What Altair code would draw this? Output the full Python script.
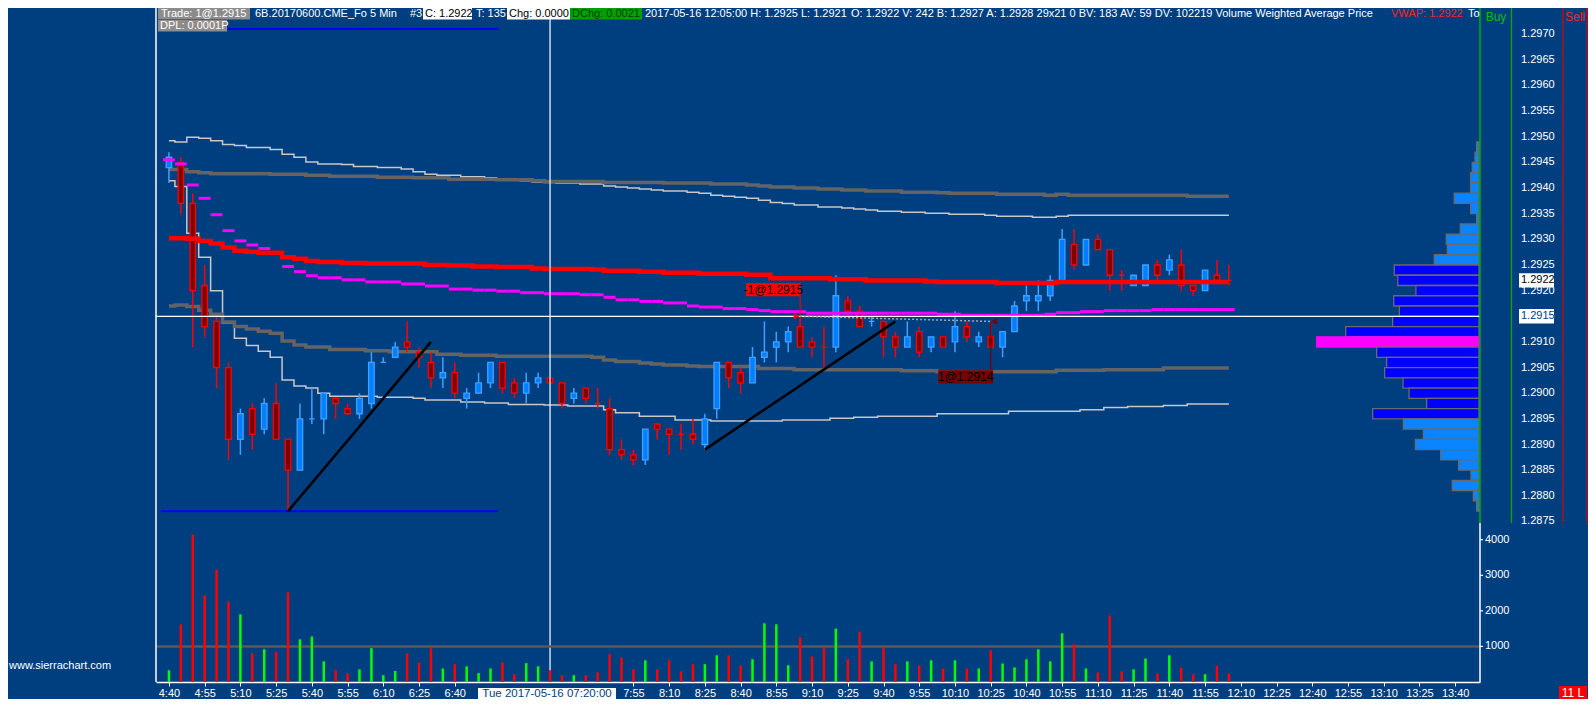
import altair as alt
import pandas as pd

# ---------------- data ----------------
OPEN = [
    1.2944, 1.2945, 1.2937, 1.2921, 1.2914, 1.2905, 1.2891, 1.2897, 1.2893, 1.2898,
    1.2891, 1.2885, 1.2895, 1.2895, 1.2899, 1.2897, 1.2896, 1.2898, 1.2906, 1.2907,
    1.2910, 1.2908, 1.2906, 1.2903, 1.2904, 1.2899, 1.2900, 1.2902, 1.2906, 1.2902,
    1.2900, 1.2902, 1.2903, 1.2902, 1.2899, 1.2901, 1.2898, 1.2897, 1.2889, 1.2888,
    1.2887, 1.2894, 1.2893, 1.2892, 1.2892, 1.2890, 1.2897, 1.2906, 1.2904, 1.2902,
    1.2907, 1.2909, 1.2910, 1.2913, 1.2910, 1.2909, 1.2909, 1.2918, 1.2916, 1.2914,
    1.2914, 1.2911, 1.2909, 1.2912, 1.2909, 1.2911, 1.2910, 1.2913, 1.2910, 1.2911,
    1.2909, 1.2912, 1.2918, 1.2918, 1.2919, 1.2922, 1.2929, 1.2925, 1.2930, 1.2928,
    1.2923, 1.2921, 1.2921, 1.2925, 1.2924, 1.2925, 1.2921, 1.2920, 1.2923, 1.2922,
]
HIGH = [
    1.2947, 1.2946, 1.2939, 1.2925, 1.2915, 1.2906, 1.2897, 1.2898, 1.2899, 1.2902,
    1.2891, 1.2898, 1.2901, 1.2900, 1.2899, 1.2898, 1.2900, 1.2908, 1.2907, 1.2910,
    1.2914, 1.2909, 1.2908, 1.2907, 1.2906, 1.2901, 1.2904, 1.2906, 1.2906, 1.2903,
    1.2904, 1.2904, 1.2903, 1.2902, 1.2901, 1.2901, 1.2901, 1.2899, 1.2891, 1.2889,
    1.2893, 1.2894, 1.2893, 1.2894, 1.2895, 1.2896, 1.2906, 1.2906, 1.2905, 1.2909,
    1.2914, 1.2912, 1.2913, 1.2915, 1.2911, 1.2913, 1.2923, 1.2919, 1.2917, 1.2915,
    1.2914, 1.2912, 1.2914, 1.2913, 1.2911, 1.2911, 1.2916, 1.2914, 1.2912, 1.2914,
    1.2912, 1.2918, 1.2921, 1.2922, 1.2923, 1.2932, 1.2932, 1.2930, 1.2931, 1.2928,
    1.2924, 1.2923, 1.2925, 1.2926, 1.2927, 1.2928, 1.2921, 1.2924, 1.2926, 1.2925,
]
LOW = [
    1.2941, 1.2935, 1.2909, 1.2911, 1.2901, 1.2887, 1.2888, 1.2889, 1.2892, 1.2891,
    1.2877, 1.2885, 1.2894, 1.2892, 1.2895, 1.2896, 1.2895, 1.2897, 1.2906, 1.2907,
    1.2908, 1.2905, 1.2901, 1.2901, 1.2899, 1.2897, 1.2900, 1.2901, 1.2900, 1.2899,
    1.2898, 1.2901, 1.2902, 1.2897, 1.2898, 1.2898, 1.2897, 1.2888, 1.2887, 1.2886,
    1.2886, 1.2891, 1.2888, 1.2889, 1.2890, 1.2889, 1.2895, 1.2901, 1.2900, 1.2902,
    1.2906, 1.2906, 1.2908, 1.2909, 1.2907, 1.2905, 1.2908, 1.2915, 1.2913, 1.2913,
    1.2907, 1.2907, 1.2909, 1.2907, 1.2908, 1.2909, 1.2908, 1.2910, 1.2909, 1.2909,
    1.2907, 1.2912, 1.2916, 1.2916, 1.2918, 1.2922, 1.2924, 1.2925, 1.2928, 1.2920,
    1.2920, 1.2921, 1.2921, 1.2922, 1.2923, 1.2920, 1.2919, 1.2920, 1.2922, 1.2921,
]
CLOSE = [
    1.2946, 1.2937, 1.2920, 1.2913, 1.2905, 1.2891, 1.2896, 1.2892, 1.2898, 1.2891,
    1.2885, 1.2895, 1.2895, 1.2900, 1.2898, 1.2896, 1.2899, 1.2906, 1.2906, 1.2909,
    1.2909, 1.2907, 1.2903, 1.2904, 1.2900, 1.2900, 1.2902, 1.2906, 1.2901, 1.2900,
    1.2902, 1.2903, 1.2902, 1.2898, 1.2900, 1.2899, 1.2898, 1.2889, 1.2888, 1.2887,
    1.2893, 1.2893, 1.2892, 1.2892, 1.2891, 1.2895, 1.2906, 1.2903, 1.2902, 1.2907,
    1.2908, 1.2910, 1.2912, 1.2909, 1.2909, 1.2909, 1.2919, 1.2916, 1.2913, 1.2914,
    1.2911, 1.2909, 1.2911, 1.2908, 1.2911, 1.2909, 1.2913, 1.2911, 1.2911, 1.2909,
    1.2912, 1.2917, 1.2919, 1.2919, 1.2922, 1.2930, 1.2925, 1.2930, 1.2928, 1.2923,
    1.2923, 1.2923, 1.2925, 1.2923, 1.2926, 1.2921, 1.2920, 1.2924, 1.2922, 1.2922,
]
DOJI_UP = [12, 18, 59]
VOLUME = [
    330, 1620, 4140, 2430, 3160, 2260, 1900, 810, 920, 840,
    2520, 1200, 1280, 580, 330, 250, 355, 950, 190, 310,
    810, 550, 950, 380, 500, 440, 250, 380, 550, 215,
    530, 440, 330, 190, 190, 190, 270, 780, 690, 355,
    610, 355, 610, 300, 500, 500, 750, 750, 470, 640,
    1650, 1620, 470, 1250, 720, 950, 1500, 640, 1420, 580,
    950, 500, 580, 470, 610, 380, 610, 380, 380, 890,
    520, 410, 640, 920, 580, 1370, 1060, 380, 270, 1870,
    300, 355, 660, 240, 750, 410, 215, 220, 450, 242,
]
VWAP = [
    1.29302, 1.29302, 1.29301, 1.29297, 1.29292, 1.29284, 1.29278, 1.29276, 1.29274, 1.29274,
    1.29265, 1.29262, 1.29258, 1.29256, 1.29256, 1.29254, 1.29254, 1.29253, 1.29253, 1.29253,
    1.29253, 1.29253, 1.29250, 1.29250, 1.29249, 1.29249, 1.29247, 1.29247, 1.29246, 1.29246,
    1.29246, 1.29243, 1.29242, 1.29242, 1.29242, 1.29242, 1.29241, 1.29239, 1.29239, 1.29239,
    1.29237, 1.29237, 1.29235, 1.29235, 1.29235, 1.29233, 1.29233, 1.29233, 1.29233, 1.29231,
    1.29231, 1.29224, 1.29224, 1.29224, 1.29224, 1.29224, 1.29222, 1.29222, 1.29222, 1.29220,
    1.29220, 1.29220, 1.29220, 1.29220, 1.29218, 1.29217, 1.29217, 1.29217, 1.29217, 1.29217,
    1.29215, 1.29215, 1.29215, 1.29215, 1.29215, 1.29217, 1.29217, 1.29217, 1.29217, 1.29217,
    1.29217, 1.29217, 1.29217, 1.29217, 1.29217, 1.29217, 1.29217, 1.29217, 1.29217, 1.29217,
]
BAND1_UP = [
    1.29436, 1.29436, 1.29432, 1.29430, 1.29428, 1.29428, 1.29428, 1.29428, 1.29428, 1.29427,
    1.29427, 1.29427, 1.29425, 1.29425, 1.29423, 1.29423, 1.29423, 1.29423, 1.29421, 1.29421,
    1.29421, 1.29420, 1.29420, 1.29420, 1.29417, 1.29417, 1.29417, 1.29417, 1.29416, 1.29416,
    1.29416, 1.29414, 1.29413, 1.29413, 1.29413, 1.29413, 1.29413, 1.29411, 1.29411, 1.29411,
    1.29411, 1.29411, 1.29410, 1.29410, 1.29410, 1.29410, 1.29408, 1.29408, 1.29408, 1.29406,
    1.29404, 1.29402, 1.29402, 1.29400, 1.29400, 1.29398, 1.29398, 1.29396, 1.29396, 1.29394,
    1.29394, 1.29394, 1.29392, 1.29392, 1.29392, 1.29391, 1.29390, 1.29390, 1.29390, 1.29390,
    1.29388, 1.29388, 1.29388, 1.29388, 1.29386, 1.29388, 1.29386, 1.29386, 1.29386, 1.29386,
    1.29386, 1.29386, 1.29386, 1.29386, 1.29386, 1.29386, 1.29384, 1.29384, 1.29384, 1.29384,
]
BAND2_UP = [
    1.29492, 1.29490, 1.29499, 1.29497, 1.29492, 1.29485, 1.29483, 1.29479, 1.29479, 1.29475,
    1.29466, 1.29460, 1.29451, 1.29447, 1.29447, 1.29446, 1.29442, 1.29442, 1.29440, 1.29440,
    1.29437, 1.29432, 1.29427, 1.29425, 1.29425, 1.29422, 1.29422, 1.29420, 1.29417, 1.29416,
    1.29414, 1.29412, 1.29411, 1.29410, 1.29410, 1.29408, 1.29408, 1.29404, 1.29402, 1.29400,
    1.29398, 1.29396, 1.29394, 1.29394, 1.29392, 1.29390, 1.29386, 1.29384, 1.29382, 1.29380,
    1.29376, 1.29372, 1.29370, 1.29367, 1.29367, 1.29363, 1.29363, 1.29361, 1.29359, 1.29357,
    1.29355, 1.29355, 1.29353, 1.29353, 1.29351, 1.29351, 1.29349, 1.29349, 1.29349, 1.29347,
    1.29345, 1.29345, 1.29345, 1.29343, 1.29343, 1.29345, 1.29347, 1.29347, 1.29347, 1.29347,
    1.29347, 1.29347, 1.29347, 1.29347, 1.29347, 1.29347, 1.29347, 1.29347, 1.29347, 1.29347,
]
BAND1_DN = [
    1.29170, 1.29172, 1.29169, 1.29162, 1.29154, 1.29139, 1.29130, 1.29125, 1.29121, 1.29117,
    1.29102, 1.29094, 1.29090, 1.29090, 1.29085, 1.29085, 1.29085, 1.29083, 1.29083, 1.29081,
    1.29081, 1.29081, 1.29081, 1.29076, 1.29076, 1.29074, 1.29074, 1.29074, 1.29072, 1.29072,
    1.29072, 1.29072, 1.29072, 1.29072, 1.29072, 1.29072, 1.29070, 1.29065, 1.29062, 1.29062,
    1.29059, 1.29057, 1.29055, 1.29055, 1.29053, 1.29052, 1.29052, 1.29052, 1.29052, 1.29052,
    1.29048, 1.29048, 1.29048, 1.29046, 1.29046, 1.29046, 1.29046, 1.29046, 1.29046, 1.29046,
    1.29046, 1.29046, 1.29044, 1.29044, 1.29044, 1.29042, 1.29042, 1.29042, 1.29042, 1.29042,
    1.29042, 1.29042, 1.29042, 1.29042, 1.29042, 1.29045, 1.29045, 1.29045, 1.29045, 1.29046,
    1.29046, 1.29046, 1.29046, 1.29046, 1.29049, 1.29049, 1.29049, 1.29049, 1.29049, 1.29049,
]
BAND2_DN = [
    1.29414, 1.29403, 1.29312, 1.29265, 1.29200, 1.29137, 1.29107, 1.29093, 1.29082, 1.29070,
    1.29026, 1.29014, 1.29010, 1.29000, 1.28994, 1.28994, 1.28994, 1.28994, 1.28992, 1.28992,
    1.28992, 1.28990, 1.28987, 1.28987, 1.28987, 1.28983, 1.28983, 1.28981, 1.28981, 1.28978,
    1.28978, 1.28978, 1.28977, 1.28977, 1.28975, 1.28975, 1.28975, 1.28968, 1.28962, 1.28962,
    1.28955, 1.28955, 1.28955, 1.28948, 1.28948, 1.28948, 1.28946, 1.28946, 1.28946, 1.28946,
    1.28946, 1.28946, 1.28948, 1.28948, 1.28948, 1.28948, 1.28951, 1.28951, 1.28953, 1.28953,
    1.28955, 1.28955, 1.28955, 1.28955, 1.28955, 1.28960, 1.28960, 1.28960, 1.28960, 1.28960,
    1.28960, 1.28965, 1.28965, 1.28965, 1.28965, 1.28965, 1.28965, 1.28968, 1.28968, 1.28972,
    1.28972, 1.28974, 1.28974, 1.28974, 1.28976, 1.28976, 1.28979, 1.28979, 1.28979, 1.28979,
]
MAGENTA = [
    1.29455, 1.29447, 1.29406, 1.29380, 1.29348, 1.29317, 1.29297, 1.29289, 1.29282, 1.29274,
    1.29247, 1.29237, 1.29229, 1.29225, 1.29225, 1.29221, 1.29221, 1.29217, 1.29217, 1.29217,
    1.29213, 1.29213, 1.29209, 1.29209, 1.29203, 1.29203, 1.29201, 1.29201, 1.29199, 1.29199,
    1.29196, 1.29196, 1.29194, 1.29194, 1.29194, 1.29192, 1.29192, 1.29187, 1.29182, 1.29182,
    1.29179, 1.29179, 1.29176, 1.29176, 1.29170, 1.29168, 1.29168, 1.29165, 1.29165, 1.29163,
    1.29161, 1.29159, 1.29159, 1.29159, 1.29156, 1.29156, 1.29156, 1.29156, 1.29156, 1.29156,
    1.29156, 1.29156, 1.29156, 1.29156, 1.29156, 1.29154, 1.29154, 1.29152, 1.29152, 1.29152,
    1.29152, 1.29152, 1.29152, 1.29152, 1.29154, 1.29157, 1.29157, 1.29159, 1.29159, 1.29161,
    1.29161, 1.29161, 1.29161, 1.29163, 1.29163, 1.29163, 1.29163, 1.29163, 1.29163, 1.29163,
]
PROFILE_PRICE = [
    1.2948, 1.2946, 1.2944, 1.2942, 1.2940, 1.2938, 1.2936, 1.2934, 1.2932, 1.2930,
    1.2928, 1.2926, 1.2924, 1.2922, 1.2920, 1.2918, 1.2916, 1.2914, 1.2912, 1.2910,
    1.2908, 1.2906, 1.2904, 1.2902, 1.2900, 1.2898, 1.2896, 1.2894, 1.2892, 1.2890,
    1.2888, 1.2886, 1.2884, 1.2882, 1.2880, 1.2878,
]
PROFILE_VOL = [
    130, 220, 370, 460, 460, 1360, 460, 130, 1030, 1800,
    1740, 2460, 4660, 4470, 3470, 4690, 4380, 4750, 7330, 8930,
    5630, 5080, 5190, 4180, 3850, 2880, 5850, 4160, 3060, 3500,
    2110, 1120, 440, 1470, 310, 130,
]
VA_LOW, VA_HIGH, POC = 1.2896, 1.2924, 1.2910

TIME_LABELS = ["4:40", "4:55", "5:10", "5:25", "5:40", "5:55", "6:10", "6:25", "6:40",
               "6:55", "7:10", "7:25", "7:40", "7:55", "8:10", "8:25", "8:40", "8:55",
               "9:10", "9:25", "9:40", "9:55", "10:10", "10:25", "10:40", "10:55",
               "11:10", "11:25", "11:40", "11:55", "12:10", "12:25", "12:40", "12:55",
               "13:10", "13:25", "13:40"]
HIDDEN_TIME = ["6:55", "7:10", "7:25", "7:40"]
PRICE_TICKS = [1.2875, 1.2880, 1.2885, 1.2890, 1.2895, 1.2900, 1.2905, 1.2910, 1.2915,
               1.2920, 1.2925, 1.2930, 1.2935, 1.2940, 1.2945, 1.2950, 1.2955, 1.2960,
               1.2965, 1.2970]
VOL_TICKS = [1000, 2000, 3000, 4000]

TREND_ID = ["a", "a", "b", "b"]
TREND_BAR = [10, 22, 45, 61]
TREND_PRICE = [1.2877, 1.2910, 1.2889, 1.2914]
HLINE_PRICE = [1.2971, 1.2877]
HLINE_FROM = [-0.67, -0.67]
HLINE_TO = [27.67, 27.67]
CROSS_BAR, CROSS_PRICE, LAST_PRICE = 32, 1.2915, 1.2922
TRADE_BAR = [53, 69]
TRADE_PRICE = [1.2915, 1.2914]
LABEL_TEXT = ["-1@1.2915", "1@1.2914"]
LABEL_BAR = [50.75, 66.9]
LABEL_PRICE = [1.29202, 1.29032]
LABEL_BG = ["#FF0000", "#7A0000"]
POINTER_FROM = [1.29189, 1.29045]
MARK_BAR = [52.7, 69.3]
MARK_SHAPE = ["triangle-right", "triangle-left"]

# ---------------- layout / style ----------------
FONT = "Liberation Sans"
BG = "#003F7F"
W, H = 1324, 674
PPX = 515  # bottom of price panel (px)

XS = alt.Scale(domain=[-8 / 12, (W - 8) / 12], nice=False, zero=False)
PY = alt.Scale(domain=[1.28747, 1.29751], range=[PPX, 0], nice=False, zero=False)
VY = alt.Scale(domain=[0, 4470], range=[H, PPX], nice=False, zero=False)
PXS = alt.Scale(domain=[0, 9000], range=[W - 1, W - 1 - 163.6], nice=False, zero=False)


def px(f):
    return alt.X(f, type="quantitative", scale=XS, axis=None)


def py(f):
    return alt.Y(f, type="quantitative", scale=PY, axis=None)


def vy(f):
    return alt.Y(f, type="quantitative", scale=VY, axis=None)


idx = list(range(len(OPEN)))
up = [(c > o) or (c == o and i in DOJI_UP) for i, (o, c) in enumerate(zip(OPEN, CLOSE))]
cdf = pd.DataFrame(dict(i=idx, o=OPEN, h=HIGH, l=LOW, c=CLOSE, v=VOLUME, up=up))
sdf = pd.DataFrame(dict(i=idx, vwap=VWAP, gu=BAND1_UP, gd=BAND1_DN, tu=BAND2_UP, td=BAND2_DN, mg=MAGENTA))
ONE = pd.DataFrame({"k": [0]})


def vtext(s, x, y, color="white", size=11, align="left"):
    return alt.Chart(ONE).mark_text(text=s, font=FONT, fontSize=size, color=color, align=align,
                                    baseline="middle").encode(x=alt.value(x), y=alt.value(y))


def vrect(x0, x1, y0, y1, color):
    return alt.Chart(ONE).mark_rect(color=color).encode(
        x=alt.value(x0), x2=alt.value(x1), y=alt.value(y0), y2=alt.value(y1))


def vrule(x0, y0, x1, y1, color, w):
    return alt.Chart(ONE).mark_rule(color=color, strokeWidth=w).encode(
        x=alt.value(x0), y=alt.value(y0), x2=alt.value(x1), y2=alt.value(y1))


wicks = alt.Chart(cdf).mark_rule(strokeWidth=1.5).encode(
    x=px("i"), y=py("l"), y2="h",
    color=alt.when(alt.datum.up).then(alt.value("#3FA0FF")).otherwise(alt.value("#FF0000")))
bodies = alt.Chart(cdf).mark_bar(orient="vertical", size=5.5, strokeWidth=1.3).encode(
    x=px("i"), y=py("o"), y2="c",
    fill=alt.when(alt.datum.up).then(alt.value("#0080FF")).otherwise(alt.value("#800000")),
    stroke=alt.when(alt.datum.up).then(alt.value("#3FA0FF")).otherwise(alt.value("#FF0000")))


def step(field, color, width):
    return alt.Chart(sdf).mark_line(interpolate="step", color=color, strokeWidth=width).encode(
        x=px("i"), y=py(field))


mag = alt.Chart(sdf).transform_calculate(a="datum.i - 0.5", b="datum.i + 0.5").mark_rule(
    color="#FF00FF", strokeWidth=3).encode(x=px("a"), x2="b", y=py("mg"))

hdf = pd.DataFrame(dict(p=HLINE_PRICE, a=HLINE_FROM, b=HLINE_TO))
hl = alt.Chart(hdf).mark_rule(color="#0000FF", strokeWidth=2).encode(x=px("a"), x2="b", y=py("p"))

tdf = pd.DataFrame(dict(bar=TREND_BAR, p=TREND_PRICE, k=TREND_ID))
trend = alt.Chart(tdf).mark_line(color="black", strokeWidth=2.5).encode(
    x=px("bar"), y=py("p"), detail="k:N")

cross_v = alt.Chart(ONE).mark_rule(color="white", strokeWidth=1.2).encode(
    x=alt.XDatum(CROSS_BAR, type="quantitative", axis=None))
cross_h = alt.Chart(ONE).mark_rule(color="white", strokeWidth=1.2).encode(
    y=alt.YDatum(CROSS_PRICE, type="quantitative", axis=None))

ldf = pd.DataFrame(dict(bar=TRADE_BAR, p=TRADE_PRICE))
link = alt.Chart(ldf).mark_line(color="#A8A8A8", strokeWidth=1.5, strokeDash=[2, 2]).encode(
    x=px("bar"), y=py("p"))

adf = pd.DataFrame(dict(t=LABEL_TEXT, bar=LABEL_BAR, p=LABEL_PRICE, bg=LABEL_BG,
                        pb=TRADE_BAR, p0=POINTER_FROM, p1=TRADE_PRICE,
                        mb=MARK_BAR, shp=MARK_SHAPE))
pointer = alt.Chart(adf).mark_rule(strokeWidth=1.2).encode(
    x=px("pb"), y=py("p0"), y2="p1", color=alt.Color("bg:N", scale=None))
lbox = alt.Chart(adf).transform_calculate(
    a="datum.bar - 2.3", b="datum.bar + 2.3", lo="datum.p - 0.00013", hi="datum.p + 0.00013"
).mark_rect().encode(x=px("a"), x2="b", y=py("lo"), y2="hi", color=alt.Color("bg:N", scale=None))
ltext = alt.Chart(adf).mark_text(font=FONT, fontSize=12, color="black", baseline="middle").encode(
    x=px("bar"), y=py("p"), text="t:N")
marks = alt.Chart(adf).mark_point(filled=True, size=45, opacity=1).encode(
    x=px("mb"), y=py("p1"), shape=alt.Shape("shp:N", scale=None), color=alt.Color("bg:N", scale=None))

# hand-built price scale labels (through the price scale)
ptdf = pd.DataFrame(dict(p=PRICE_TICKS))
price_labels = alt.Chart(ptdf).mark_text(font=FONT, fontSize=11, color="white", align="left",
                                         baseline="middle").encode(
    x=alt.value(1365), y=py("p"), text=alt.Text("p:Q", format=".4f"))


def price_tag(price, txtcolor):
    box = alt.Chart(ONE).mark_rect(color="white").encode(
        x=alt.value(1363), x2=alt.value(1398),
        y=alt.YDatum(price + 0.00014, type="quantitative", axis=None),
        y2=alt.Y2Datum(price - 0.00014))
    t = alt.Chart(ONE).mark_text(text=f"{price:.4f}", font=FONT, fontSize=11, color=txtcolor,
                                 align="left", baseline="middle").encode(
        x=alt.value(1365), y=alt.YDatum(price, type="quantitative", axis=None))
    return [box, t]


price_group = alt.layer(
    step("tu", "#C8C8C8", 1.5), step("td", "#C8C8C8", 1.5),
    step("gu", "#646464", 3.5), step("gd", "#646464", 3.5),
    wicks, bodies, mag, step("vwap", "#FF0000", 4.5),
    hl, trend, cross_v, cross_h, link, pointer, lbox, ltext, marks,
    price_labels,
    *price_tag(LAST_PRICE, "black"), *price_tag(CROSS_PRICE, BG),
)

# volume profile
pdf = pd.DataFrame(dict(p=PROFILE_PRICE, v=PROFILE_VOL))
pdf["zone"] = ["poc" if abs(p - POC) < 1e-6 else ("va" if VA_LOW - 1e-6 <= p <= VA_HIGH + 1e-6 else "out")
               for p in PROFILE_PRICE]
profile = alt.Chart(pdf).transform_calculate(
    lo="datum.p - 0.0001", hi="datum.p + 0.0001", z="0"
).mark_rect(strokeWidth=1.3).encode(
    x=alt.X("v:Q", scale=PXS, axis=None), x2="z",
    y=alt.Y("lo:Q", scale=PY, axis=None), y2="hi",
    fill=alt.when(alt.datum.zone == "poc").then(alt.value("#FF00FF"))
    .when(alt.datum.zone == "va").then(alt.value("#0000FF")).otherwise(alt.value("#0A84FF")),
    stroke=alt.when(alt.datum.zone == "poc").then(alt.value("#FF00FF")).otherwise(alt.value("#6A6A6A")),
)

# volume panel
TL = "[" + ",".join(f"'{s}'" for s in TIME_LABELS) + "]"
TICK_VALUES = [3 * k for k, s in enumerate(TIME_LABELS) if s not in HIDDEN_TIME]
x_axis = alt.Axis(orient="bottom", values=TICK_VALUES, labelExpr=f"{TL}[round(datum.value / 3)]",
                  labelColor="white", labelFont=FONT, labelFontSize=11, tickColor="white",
                  tickSize=4, labelPadding=1, domainColor="white", domainWidth=1.5, grid=False,
                  title=None, labelFlush=False, labelOverlap=False)
vref = alt.Chart(ONE).mark_rule(color="#5A5A5A", strokeWidth=2.5).encode(
    y=alt.YDatum(1000, type="quantitative", axis=None))
vbars = alt.Chart(cdf).mark_bar(orient="vertical", size=2.5).encode(
    x=alt.X("i:Q", scale=XS, axis=x_axis),
    y=alt.Y("v:Q", scale=VY, axis=None),
    color=alt.when(alt.datum.up).then(alt.value("#00FF00")).otherwise(alt.value("#FF0000")))
vtdf = pd.DataFrame(dict(v=VOL_TICKS))
vticks = alt.Chart(vtdf).mark_rule(color="white", strokeWidth=1.2).encode(
    x=alt.value(W), x2=alt.value(W + 3), y=vy("v"))
vlabels = alt.Chart(vtdf).mark_text(font=FONT, fontSize=11, color="white", align="left",
                                    baseline="middle").encode(
    x=alt.value(W + 5), y=vy("v"), text=alt.Text("v:Q", format="d"))
vol_group = alt.layer(vref, vbars, vticks, vlabels)

R1, R2 = 5.5, 17.5
annot = alt.layer(
    vrule(0, 0, 0, H, "white", 1.5),
    vrule(W, 0, W, PPX, "#00B000", 1.5),
    vrule(W, PPX, W, H, "white", 1.5),
    vrule(1355.5, 0, 1355.5, PPX, "#00B000", 1.2),
    vrule(1407, 0, 1407, PPX, "#E00000", 1.2),
    vrule(1431, 0, 1431, PPX, "#E00000", 1.2),
    vtext("Buy", 1340, 9, "#00C000", 12, "center"),
    vtext("Sell", 1419, 9, "#FF2020", 12, "center"),
    vrect(2, 94, 0, 11.5, "#8C8C8C"), vtext("Trade: 1@1.2915", 5, R1),
    vtext("6B.20170600.CME_Fo  5 Min", 99, R1),
    vtext("#3", 254, R1),
    vrect(267, 316, 0, 11.5, "white"), vtext("C: 1.2922", 269, R1, "black"),
    vtext("T: 135", 320, R1),
    vrect(351, 414, 0, 11.5, "white"), vtext("Chg: 0.0000", 353, R1, "black"),
    vrect(414, 486, 0, 11.5, "#00A000"), vtext("DChg: 0.0021", 416, R1, "#004000"),
    vtext("2017-05-16 12:05:00 H: 1.2925 L: 1.2921", 489, R1),
    vtext("O: 1.2922 V: 242 B: 1.2927 A: 1.2928 29x21 0 BV: 183 AV: 59 DV: 102219  Volume Weighted Average Price", 695, R1),
    vtext("VWAP: 1.2922", 1235, R1, "#FF2020"),
    vtext("To", 1312, R1),
    vrect(2, 71, 12, 23.5, "#8C8C8C"), vtext("DPL: 0.0001P", 4, R2),
    vrect(322, 460, 680, 691, "white"),
    vtext("Tue 2017-05-16  07:20:00", 391, 685.5, BG, 11.5, "center"),
    vrect(1403, 1431, 678, 691, "#FF0000"), vtext("11 L", 1417, 684.5, "white", 12, "center"),
    vtext("www.sierrachart.com", -147, 658, "white", 11),
)

chart = alt.layer(profile, price_group, vol_group, annot).resolve_scale(
    x="independent", y="independent"
).properties(
    width=W, height=H,
    padding={"left": 148, "top": 0, "right": 108, "bottom": 17},
    autosize=alt.AutoSizeParams(type="none"),
    background=BG,
).configure_view(strokeWidth=0)

chart.save("out.html", embed_options={"renderer": "svg", "actions": False})
